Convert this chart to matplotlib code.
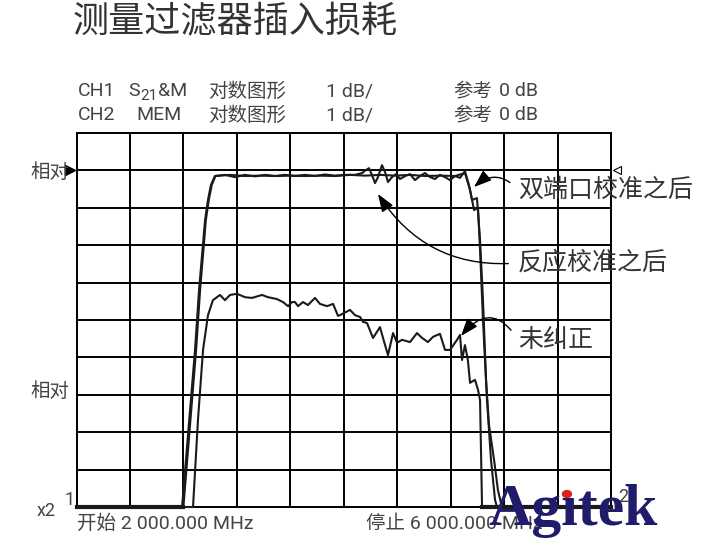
import matplotlib
matplotlib.use("Agg")
import matplotlib.pyplot as plt
from matplotlib import font_manager

# ---------------- data ----------------
title = "测量过滤器插入损耗"
start_label = "开始 2 000.000 MHz"
stop_label = "停止 6 000.000 MHz"
f_start, f_stop = 2000, 6000
db_top, db_bottom = 1, -9

freq_2port = [2000, 2790, 2887, 2917, 2962, 2984, 3006, 3036, 3149, 3261, 3373, 3486, 3598, 3710,
              3822, 3935, 4047, 4159, 4271, 4383, 4496, 4608, 4720, 4833, 4907, 4945, 4975, 5005,
              5020, 5042, 5072, 5102, 5132, 5147, 6000]
db_2port = [-9, -9, -4.8, -3.2, -1.33, -0.79, -0.39, -0.15, -0.12, -0.15, -0.14, -0.15, -0.14, -0.15,
            -0.14, -0.15, -0.12, -0.14, -0.12, -0.14, -0.12, -0.15, -0.14, -0.15, -0.07, -0.52, -1.06, -1.0,
            -2.13, -4.0, -6.14, -7.74, -8.81, -9, -9]

freq_resp = [2000, 2800, 2895, 2925, 2968, 2990, 3012, 3040, 3111, 3186, 3261, 3336, 3411, 3486, 3560,
             3635, 3710, 3785, 3860, 3935, 4009, 4084, 4137, 4167, 4189, 4211, 4234, 4256, 4286, 4309,
             4331, 4361, 4391, 4421, 4459, 4496, 4533, 4571, 4608, 4646, 4683, 4720, 4758, 4795, 4833,
             4870, 4907, 4937, 4960, 4997, 5020, 5042, 5065, 5087, 5125, 5154, 5184, 6000]
db_resp = [-9, -9, -4.8, -3.2, -1.33, -0.79, -0.39, -0.15, -0.12, -0.18, -0.12, -0.16, -0.12, -0.15, -0.12,
           -0.15, -0.12, -0.15, -0.11, -0.14, -0.12, -0.12, -0.07, 0.01, 0.06, -0.12, -0.34, -0.18, 0.14, -0.04,
           -0.31, -0.18, -0.10, -0.23, -0.15, -0.10, -0.26, -0.15, -0.07, -0.18, -0.23, -0.12, -0.18, -0.26, -0.15,
           -0.20, -0.02, -0.39, -0.79, -0.74, -1.86, -3.47, -5.60, -6.81, -7.74, -8.55, -9, -9]

freq_uncorr = [2000, 2872, 2909, 2947, 2984, 3021, 3074, 3111, 3149, 3201, 3261, 3313, 3388, 3433, 3500,
               3545, 3583, 3613, 3635, 3658, 3695, 3732, 3785, 3822, 3875, 3920, 3957, 3972, 4047, 4084,
               4122, 4144, 4174, 4219, 4271, 4294, 4331, 4369, 4399, 4436, 4496, 4548, 4586, 4630, 4668,
               4720, 4758, 4795, 4848, 4870, 4885, 4907, 4929, 4945, 4982, 5005, 5020, 5035, 6000]
db_uncorr = [-9, -9, -6.67, -4.80, -3.87, -3.47, -3.33, -3.47, -3.33, -3.30, -3.39, -3.41, -3.33, -3.39, -3.44,
             -3.52, -3.63, -3.52, -3.52, -3.63, -3.52, -3.60, -3.41, -3.57, -3.63, -3.57, -3.89, -3.87, -3.73, -3.87,
             -3.92, -4.05, -4.08, -4.48, -4.19, -4.48, -4.94, -4.35, -4.61, -4.53, -4.59, -4.35, -4.48, -4.59, -4.45,
             -4.37, -4.80, -4.80, -4.53, -4.40, -5.07, -4.67, -5.07, -5.68, -5.60, -5.87, -6.14, -9, -9]

labels = ["双端口校准之后", "反应校准之后", "未纠正"]

# ---------------- fonts ----------------
installed = {f.name for f in font_manager.fontManager.ttflist}
narrow = "Liberation Sans Narrow" if "Liberation Sans Narrow" in installed else "Roboto"
CJK = "Noto Sans CJK SC"
MIX = [narrow, CJK, "DejaVu Sans"]
plt.rcParams['font.family'] = [CJK, "DejaVu Sans"]

W, H = 720, 552
fig = plt.figure(figsize=(W / 100, H / 100), dpi=100)
fig.patch.set_facecolor("white")

L, R, T, B = 76.5, 611, 133, 507
ax = fig.add_axes([L / W, 1 - B / H, (R - L) / W, (B - T) / H])
ax.set_xlim(f_start, f_stop)
ax.set_ylim(db_bottom, db_top)
ax.set_xticks(range(f_start, f_stop + 1, 400))
ax.set_yticks(range(db_bottom, db_top + 1, 1))
ax.tick_params(length=0, labelbottom=False, labelleft=False)
ax.grid(True, color="black", lw=1.4)
for s in ax.spines.values():
    s.set_color("black")
    s.set_linewidth(1.4)

tc = "#1a1a1a"
ax.plot(freq_2port, db_2port, color=tc, lw=1.5, clip_on=False, zorder=3)
ax.plot(freq_resp, db_resp, color=tc, lw=1.5, clip_on=False, zorder=3)
ax.plot(freq_uncorr, db_uncorr, color=tc, lw=1.5, clip_on=False, zorder=3)
ax.plot([f_start, 2800], [db_bottom, db_bottom], color=tc, lw=3, clip_on=False, zorder=4)
ax.plot([5035, f_stop], [db_bottom, db_bottom], color=tc, lw=3, clip_on=False, zorder=4)


def fx(px):
    return f_start + (px - L) * (f_stop - f_start) / (R - L)


def fy(py):
    return db_top - (py - T) * (db_top - db_bottom) / (B - T)


txt_c = "#333333"
arr_c = "#555555"
ann = [
    (labels[0], (518, 190), (474, 187), 0.5),
    (labels[1], (518, 263), (378, 194), -0.3),
    (labels[2], (518, 340), (461, 336), 0.7),
]
for text, (tx, ty), (ax_, ay_), rad in ann:
    ax.annotate(text, xy=(fx(ax_), fy(ay_)), xytext=(fx(tx), fy(ty)),
                ha="left", va="center", fontsize=18, color=txt_c, family=CJK,
                annotation_clip=False,
                arrowprops=dict(arrowstyle="-|>,head_length=0.6,head_width=0.22",
                                connectionstyle=f"arc3,rad={rad}", color=arr_c, lw=1.0,
                                relpos=(0, 0.5), shrinkA=5, shrinkB=0,
                                fc="black", ec="black"))

# reference markers
ax.plot([-0.012], [0.9], transform=ax.transAxes, marker=">", ms=7, color="black", clip_on=False)
ax.plot([1.012], [0.9], transform=ax.transAxes, marker="<", ms=6, mfc="white", mec="black", mew=0.8,
        clip_on=False)


def ftext(x, y, s, size, **kw):
    kw.setdefault("color", "#444444")
    kw.setdefault("va", "center")
    kw.setdefault("ha", "left")
    fig.text(x / W, 1 - y / H, s, fontsize=size, **kw)


# title
ftext(73, 22, title, 26, color="#333333", family=CJK)

# header lines
hs = 14
for y, ch in [(91, "CH1"), (115, "CH2")]:
    ftext(78, y, ch, hs, family=MIX)
    ftext(208, y, "对数图形", hs, family=CJK)
    ftext(326, y, "1 dB/", hs, family=MIX)
    ftext(453, y, "参考", hs, family=CJK)
    ftext(499, y, "0 dB", hs, family=MIX)
ftext(128, 91, "S", hs, family=MIX)
ftext(140, 96, "21", 11, family=MIX)
ftext(158, 91, "&M", hs, family=MIX)
ftext(136, 115, "MEM", hs, family=MIX)

# side labels
ftext(30, 172, "相对", 14, family=CJK)
ftext(30, 391, "相对", 14, family=CJK)
ftext(37, 511, "x2", 13, family=MIX)
ftext(65, 500, "1", 13, family=MIX)
ftext(618, 497, "2", 13, family=MIX)
ftext(77, 524, start_label, 14, family=MIX)
ftext(366, 524, stop_label, 14, family=MIX)

# logo
fig.text(488 / W, 1 - 525 / H, "Ag\u0131tek", fontsize=43, family="Liberation Serif",
         weight="bold", color="#201c6c", ha="left", va="baseline")
fig.patches.append(plt.Circle((567 / W, 1 - 494 / H), 4.5 / W, transform=fig.transFigure,
                              color="#e0201c", zorder=10))

fig.savefig("out.png", dpi=100)
